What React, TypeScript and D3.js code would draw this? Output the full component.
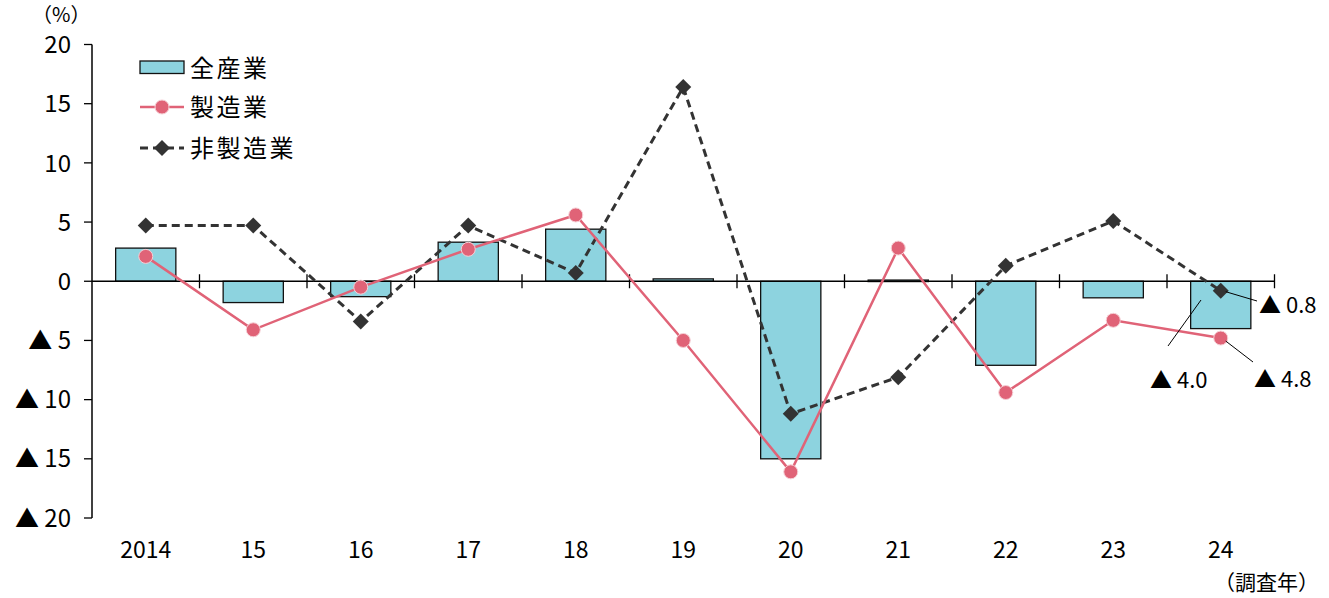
import React from "react";
import * as d3 from "d3";

const years = ["2014", "15", "16", "17", "18", "19", "20", "21", "22", "23", "24"];
const allIndustry = [2.8, -1.8, -1.3, 3.3, 4.4, 0.2, -15.0, 0.1, -7.1, -1.4, -4.0];
const manufacturing = [2.1, -4.1, -0.5, 2.7, 5.6, -5.0, -16.1, 2.8, -9.4, -3.3, -4.8];
const nonManufacturing = [4.7, 4.7, -3.4, 4.7, 0.7, 16.4, -11.2, -8.1, 1.3, 5.1, -0.8];
const yTicks = [20, 15, 10, 5, 0, -5, -10, -15, -20];
const legendLabels = ["全産業", "製造業", "非製造業"];

const W = 1329;
const H = 598;
const left = 92;
const right = 1274.5;
const top = 44.5;
const bottom = 518;

const FONT = "'Noto Sans CJK JP', 'Noto Sans', sans-serif";
const BAR_FILL = "#8dd3df";
const PINK = "#e06377";
const DARK = "#333333";

function fmt(v: number) {
  if (v < 0) return "▲ " + Math.abs(v);
  return String(v);
}

function fmtVal(v: number) {
  return "▲ " + Math.abs(v).toFixed(1);
}

export default function App() {
  const x = d3.scaleBand<string>().domain(years).range([left, right]).paddingInner(0).paddingOuter(0);
  const y = d3.scaleLinear().domain([-20, 20]).range([bottom, top]);
  const bw = x.bandwidth() * 0.56;
  const cx = (i: number) => (x(years[i]) as number) + x.bandwidth() / 2;

  const line = d3.line<number>().x((_, i) => cx(i)).y((d) => y(d));

  const diamond = (px: number, py: number, r: number) =>
    `M${px},${py - r}L${px + r},${py}L${px},${py + r}L${px - r},${py}Z`;

  const last = years.length - 1;
  const lx = cx(last);

  return (
    <svg width={W} height={H} style={{ position: "absolute", left: 0, top: 0, background: "#fff" }} fontFamily={FONT}>
      {/* bars */}
      {allIndustry.map((v, i) => (
        <rect
          key={"b" + i}
          x={cx(i) - bw / 2}
          y={Math.min(y(v), y(0))}
          width={bw}
          height={Math.max(Math.abs(y(v) - y(0)), 1.5)}
          fill={BAR_FILL}
          stroke="#111"
          strokeWidth={1.3}
        />
      ))}
      {/* y axis */}
      <line x1={left} x2={left} y1={top} y2={bottom} stroke="#000" strokeWidth={1.5} />
      {yTicks.map((t) => (
        <g key={"yt" + t}>
          <line x1={left - 8} x2={left} y1={y(t)} y2={y(t)} stroke="#000" strokeWidth={1.3} />
          <text x={71} y={y(t)} dy="0.36em" textAnchor="end" fontSize={24} fill="#000">
            {fmt(t)}
          </text>
        </g>
      ))}
      {/* zero line with category boundary ticks */}
      <line x1={left} x2={right} y1={y(0)} y2={y(0)} stroke="#000" strokeWidth={1.3} />
      {years.map((yr) => {
        const bx = (x(yr) as number) + x.bandwidth();
        return <line key={"xt" + yr} x1={bx} x2={bx} y1={y(0) - 7} y2={y(0) + 7} stroke="#000" strokeWidth={1.3} />;
      })}
      {/* x labels */}
      {years.map((yr, i) => (
        <text key={"xl" + yr} x={cx(i)} y={558} textAnchor="middle" fontSize={23} fill="#000">
          {yr}
        </text>
      ))}
      {/* non-manufacturing dashed */}
      <path d={line(nonManufacturing) || ""} fill="none" stroke={DARK} strokeWidth={3} strokeDasharray="8,5" />
      {/* manufacturing */}
      <path d={line(manufacturing) || ""} fill="none" stroke={PINK} strokeWidth={2.5} />
      {nonManufacturing.map((v, i) => (
        <path key={"d" + i} d={diamond(cx(i), y(v), 8)} fill={DARK} />
      ))}
      {manufacturing.map((v, i) => (
        <circle key={"c" + i} cx={cx(i)} cy={y(v)} r={7} fill={PINK} stroke="#f6d0d6" strokeWidth={1} />
      ))}
      {/* annotations for last year */}
      <line x1={lx + 5} y1={y(nonManufacturing[last]) + 1} x2={1257} y2={301} stroke="#000" strokeWidth={1} />
      <text x={1259} y={313} fontSize={22} fill="#000">{fmtVal(nonManufacturing[last])}</text>
      <line x1={1201} y1={300} x2={1168} y2={346} stroke="#000" strokeWidth={1} />
      <text x={1150} y={388} fontSize={22} fill="#000">{fmtVal(allIndustry[last])}</text>
      <line x1={lx + 5} y1={y(manufacturing[last]) + 3} x2={1253} y2={362} stroke="#000" strokeWidth={1} />
      <text x={1254} y={387} fontSize={22} fill="#000">{fmtVal(manufacturing[last])}</text>
      {/* legend */}
      <rect x={140} y={61} width={44} height={12.5} fill={BAR_FILL} stroke="#111" strokeWidth={1.3} />
      <text x={190} y={68} dy="0.36em" fontSize={24} letterSpacing={2.5} fill="#000">{legendLabels[0]}</text>
      <line x1={140} x2={184} y1={107} y2={107} stroke={PINK} strokeWidth={2.5} />
      <circle cx={162} cy={107} r={7} fill={PINK} stroke="#f6d0d6" strokeWidth={1} />
      <text x={190} y={107} dy="0.36em" fontSize={24} letterSpacing={2.5} fill="#000">{legendLabels[1]}</text>
      <line x1={140} x2={184} y1={148} y2={148} stroke={DARK} strokeWidth={3} strokeDasharray="8,5" />
      <path d={diamond(162, 148, 8)} fill={DARK} />
      <text x={190} y={148} dy="0.36em" fontSize={24} letterSpacing={2.5} fill="#000">{legendLabels[2]}</text>
      {/* unit labels */}
      <text x={32} y={22} fontSize={20} fill="#000">（%）</text>
      <text x={1214} y={590} fontSize={21} fill="#000">（調査年）</text>
    </svg>
  );
}
